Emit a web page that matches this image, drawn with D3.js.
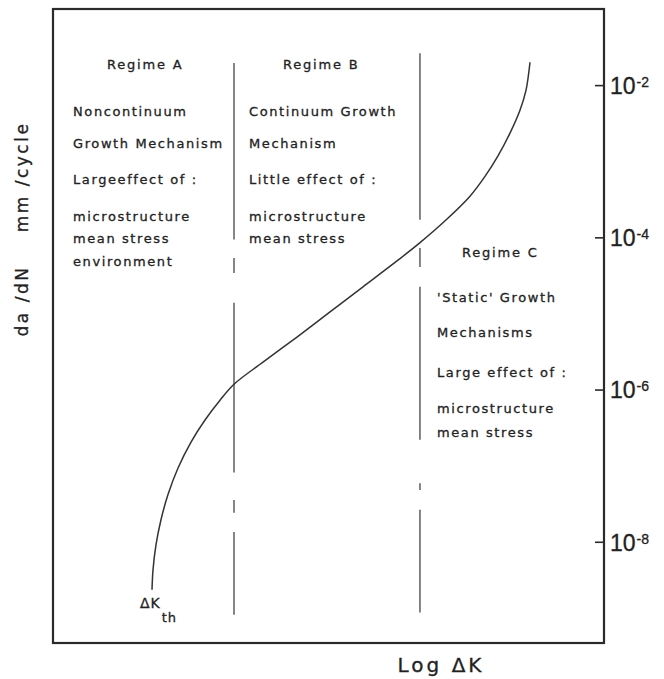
<!DOCTYPE html>
<html>
<head>
<meta charset="utf-8">
<script src="https://cdn.jsdelivr.net/npm/d3@7"></script>
<style>
  body { margin: 0; background: #fff; }
  svg text { font-family: "DejaVu Sans", sans-serif; fill: #222; stroke: #222; stroke-width: 0.3px; }
</style>
</head>
<body>
<div id="chart"></div>
<script>
// growth curve, x = log dK (arbitrary units 0..100), y = log10(da/dN)
const logDK = [17.97, 18.15, 18.69, 19.60, 20.87, 22.69, 25.05, 27.59, 30.31, 32.85,
    38.11, 44.28, 50.27, 56.26, 62.43, 66.61, 71.51, 75.68, 78.40, 80.76, 82.94, 84.75, 85.84, 86.57];
const logRate = [-8.63, -8.37, -8.04, -7.71, -7.38, -7.03, -6.69, -6.40, -6.14, -5.93,
    -5.64, -5.31, -4.98, -4.65, -4.31, -4.07, -3.76, -3.46, -3.20, -2.93, -2.63, -2.33, -2.07, -1.70];

// regime boundaries (x) and their broken segments (log da/dN from..to)
const boundaryX = [32.85, 66.6];
const boundaryAB = [[-1.71, -4.03], [-4.27, -4.47], [-4.86, -7.09], [-7.45, -7.62], [-7.87, -8.96]];
const boundaryBC = [[-1.58, -3.77], [-4.14, -4.39], [-4.65, -6.66], [-7.23, -7.32], [-7.58, -8.93]];

const tickExp = [-2, -4, -6, -8];

const regimeATitle = "Regime A";
const regimeALines = ["Noncontinuum", "Growth Mechanism", "Largeeffect of :", "microstructure", "mean stress", "environment"];
const regimeBTitle = "Regime B";
const regimeBLines = ["Continuum Growth", "Mechanism", "Little effect of :", "microstructure", "mean stress"];
const regimeCTitle = "Regime C";
const regimeCLines = ["'Static' Growth", "Mechanisms", "Large effect of :", "microstructure", "mean stress"];

const width = 664, height = 679;
const frame = {left: 53, top: 9, right: 604, bottom: 643};

const svg = d3.select("#chart").append("svg")
    .attr("width", width)
    .attr("height", height);

const x = d3.scaleLinear().domain([0, 100]).range([frame.left, frame.right]);
const y = d3.scaleLog().domain([Math.pow(10, -9.33), Math.pow(10, -1)]).range([frame.bottom, frame.top]);

// frame
svg.append("rect")
    .attr("x", frame.left).attr("y", frame.top)
    .attr("width", frame.right - frame.left)
    .attr("height", frame.bottom - frame.top)
    .attr("fill", "none")
    .attr("stroke", "#2a2a2a")
    .attr("stroke-width", 2.2);

// right axis, ticks pointing inward
const axis = d3.axisRight(y)
    .tickValues(tickExp.map(e => Math.pow(10, e)))
    .tickSizeInner(-9)
    .tickSizeOuter(0)
    .tickPadding(6)
    .tickFormat("");
const axisG = svg.append("g")
    .attr("transform", "translate(" + frame.right + ",0)")
    .call(axis);
axisG.select(".domain").remove();
axisG.selectAll(".tick line").attr("stroke", "#2a2a2a").attr("stroke-width", 1.6);
axisG.selectAll(".tick text")
    .attr("x", 6)
    .attr("dy", "0.36em")
    .style("font-family", "'Liberation Sans', sans-serif")
    .style("font-size", "23px")
    .each(function(d) {
        const t = d3.select(this);
        t.append("tspan").text("10");
        t.append("tspan")
            .attr("dy", "-0.5em")
            .attr("dx", 1)
            .style("font-size", "14px")
            .text(Math.round(Math.log10(d)));
    });

// regime boundaries
[boundaryAB, boundaryBC].forEach((segs, i) => {
    svg.append("g").selectAll("line")
        .data(segs)
        .enter()
        .append("line")
        .attr("x1", x(boundaryX[i]))
        .attr("x2", x(boundaryX[i]))
        .attr("y1", d => y(Math.pow(10, d[0])))
        .attr("y2", d => y(Math.pow(10, d[1])))
        .attr("stroke", "#444")
        .attr("stroke-width", 1.3);
});

// growth curve
const pts = logDK.map((v, i) => [v, logRate[i]]);
const line = d3.line()
    .x(d => x(d[0]))
    .y(d => y(Math.pow(10, d[1])))
    .curve(d3.curveCatmullRom.alpha(0.5));
svg.append("path")
    .datum(pts)
    .attr("d", line)
    .attr("fill", "none")
    .attr("stroke", "#333")
    .attr("stroke-width", 1.5);

// annotation text
function textBlock(title, titleX, titleY, lines, lx, ly) {
    const g = svg.append("g")
        .style("font-size", "13px")
        .style("letter-spacing", "1.6px");
    g.append("text")
        .attr("x", titleX).attr("y", titleY)
        .style("letter-spacing", "1.8px")
        .text(title);
    g.selectAll("text.line")
        .data(lines)
        .enter()
        .append("text")
        .attr("class", "line")
        .attr("x", lx)
        .attr("y", (d, i) => ly[i])
        .text(d => d);
}
textBlock(regimeATitle, 107, 69, regimeALines, 73, [116, 148, 184, 221, 243, 266]);
textBlock(regimeBTitle, 283, 69, regimeBLines, 249, [116, 148, 184, 221, 243]);
textBlock(regimeCTitle, 462, 257, regimeCLines, 437, [302, 337, 377, 413, 437]);

// delta K threshold label
const dk = svg.append("text")
    .attr("x", 140).attr("y", 608)
    .style("font-size", "14px")
    .style("letter-spacing", "1px");
dk.append("tspan").text("ΔK");
dk.append("tspan").attr("dy", 14).attr("dx", 1).style("font-size", "13px").text("th");

// axis titles
svg.append("text")
    .attr("x", 441).attr("y", 672)
    .attr("text-anchor", "middle")
    .style("font-size", "20px")
    .style("letter-spacing", "3px")
    .text("Log ΔK");

svg.append("text")
    .attr("transform", "translate(28,301) rotate(-90)")
    .attr("text-anchor", "middle")
    .style("font-size", "17px")
    .style("letter-spacing", "2.5px")
    .text("da /dN");
svg.append("text")
    .attr("transform", "translate(28,177) rotate(-90)")
    .attr("text-anchor", "middle")
    .style("font-size", "17px")
    .style("letter-spacing", "2.5px")
    .text("mm /cycle");
</script>
</body>
</html>
